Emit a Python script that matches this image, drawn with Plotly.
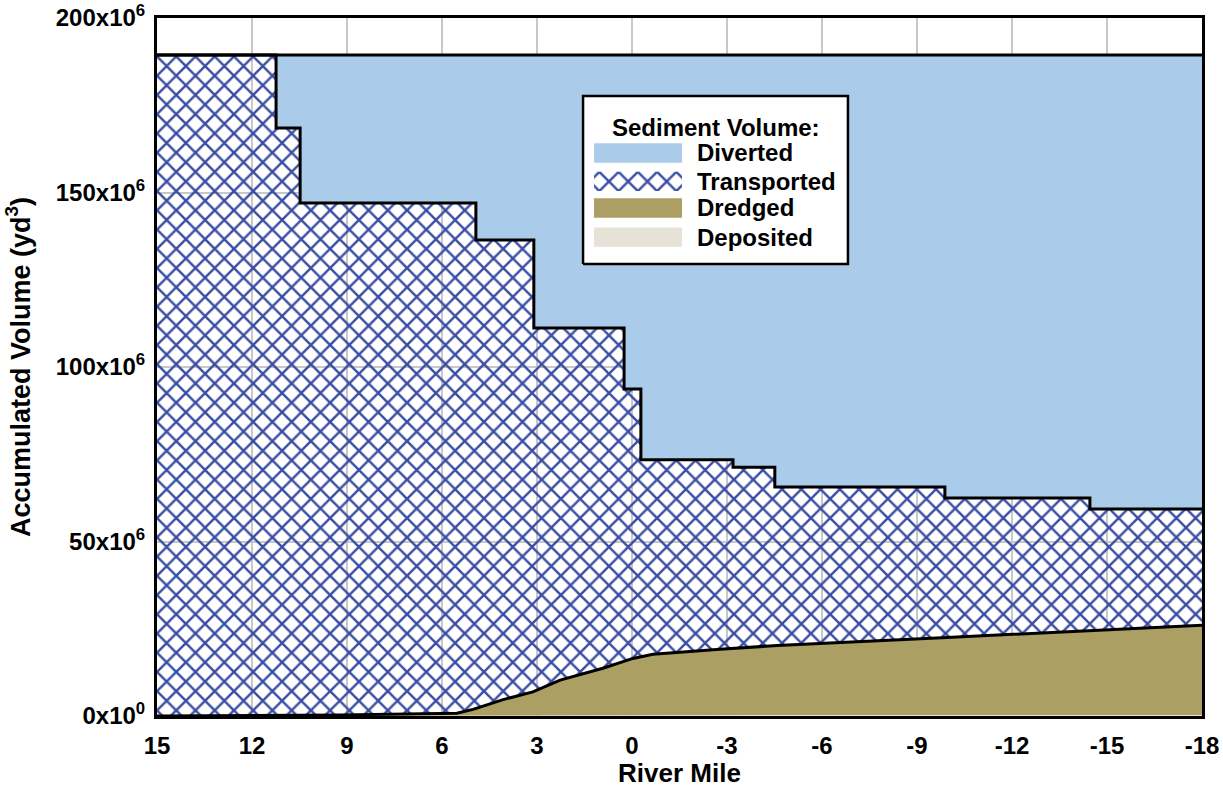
import plotly.graph_objects as go

# ---------------- data (volumes in cubic yards, river mile on x) ----------------
step_mile = [15, 11.24, 10.48, 4.93, 3.10, 0.25, -0.28, -3.19, -4.51, -9.88, -14.46, -18]
transported_top = [189.4e6, 168.5e6, 147.0e6, 136.4e6, 111.2e6, 93.7e6, 73.4e6,
                   71.3e6, 65.6e6, 62.5e6, 59.3e6, 59.3e6]

dredge_mile = [15, 9.22, 5.53, 5.02, 4.07, 3.13, 2.27, 0.92, -0.03, -0.66,
               -2.78, -4.58, -9.95, -14.46, -18]
dredged_cum = [0.0, 0.2e6, 0.5e6, 1.6e6, 4.4e6, 6.6e6, 10.0e6, 13.4e6, 16.2e6, 17.4e6,
               18.8e6, 19.9e6, 22.2e6, 24.2e6, 25.7e6]
deposited = [0.0, 0.1e6, 0.3e6, 0.3e6, 0.3e6, 0.3e6, 0.3e6, 0.3e6, 0.3e6, 0.3e6,
             0.3e6, 0.3e6, 0.3e6, 0.3e6, 0.3e6]

total_mile = [15, -18]
total_volume = [189.4e6, 189.4e6]

x_ticks = [15, 12, 9, 6, 3, 0, -3, -6, -9, -12, -15, -18]
y_ticks = [0, 50e6, 100e6, 150e6, 200e6]
y_tick_text = ["0x10<sup>0</sup>", "50x10<sup>6</sup>", "100x10<sup>6</sup>",
               "150x10<sup>6</sup>", "200x10<sup>6</sup>"]

legend_labels = ["Diverted", "Transported", "Dredged", "Deposited"]

# ---------------- styles ----------------
C_DIV = "#abcbeb"
C_HATCH = "#3a4ea3"
C_DRE = "#ab9f64"
C_DEP = "#e6e2d7"
FONT = "Liberation Sans, Arial, sans-serif"
HATCH = dict(shape="x", size=13.6, solidity=0.33, fgcolor=C_HATCH, fillmode="replace")

dep_plus_dre = [a + b for a, b in zip(deposited, dredged_cum)]

fig = go.Figure()
fig.add_trace(go.Scatter(x=dredge_mile, y=deposited, mode="lines",
                         line=dict(width=0, color=C_DEP), fill="tozeroy",
                         fillcolor=C_DEP, name="Deposited", hoverinfo="skip"))
fig.add_trace(go.Scatter(x=dredge_mile, y=dep_plus_dre, mode="lines",
                         line=dict(width=3, color="black"), fill="tonexty",
                         fillcolor=C_DRE, name="Dredged"))
fig.add_trace(go.Scatter(x=step_mile, y=transported_top, mode="lines",
                         line=dict(width=3, color="black", shape="hv"), fill="tonexty",
                         fillpattern=dict(HATCH, bgcolor="rgba(0,0,0,0)"),
                         fillcolor="rgba(0,0,0,0)", name="Transported"))
fig.add_trace(go.Scatter(x=total_mile, y=total_volume, mode="lines",
                         line=dict(width=3, color="black"), fill="tonexty",
                         fillcolor=C_DIV, name="Diverted"))

# ---------------- legend box drawn by hand (overlay axis = plot-area fractions) ----------------
L_X0, L_X1, L_Y0, L_Y1 = 0.4077, 0.6612, 0.6476, 0.8883
SW_X0, SW_X1 = 0.4182, 0.5024
TXT_X = 0.5148
row_y = [0.8066, 0.7658, 0.7278, 0.6862]
sw_half = 0.0138

fig.add_trace(go.Scatter(x=[L_X0, L_X1, L_X1, L_X0, L_X0], y=[L_Y0, L_Y0, L_Y1, L_Y1, L_Y0],
                         xaxis="x2", yaxis="y2", mode="lines",
                         line=dict(width=2.5, color="black"), fill="toself", fillcolor="white",
                         hoverinfo="skip", showlegend=False))
hy = row_y[1]
fig.add_trace(go.Scatter(x=[SW_X0, SW_X1, SW_X1, SW_X0, SW_X0],
                         y=[hy - sw_half, hy - sw_half, hy + sw_half, hy + sw_half, hy - sw_half],
                         xaxis="x2", yaxis="y2", mode="lines", line=dict(width=0),
                         fill="toself", fillcolor="rgba(0,0,0,0)",
                         fillpattern=dict(HATCH, bgcolor="white"),
                         hoverinfo="skip", showlegend=False))

shapes = []
for lab, yc, col in zip(legend_labels, row_y, [C_DIV, None, C_DRE, C_DEP]):
    if col is not None:
        shapes.append(dict(type="rect", xref="paper", yref="paper", x0=SW_X0, x1=SW_X1,
                           y0=yc - sw_half, y1=yc + sw_half, fillcolor=col,
                           line=dict(width=0), layer="above"))

annotations = [dict(text="<b>Sediment Volume:</b>", xref="paper", yref="paper",
                    x=(L_X0 + L_X1) / 2, y=0.8438, showarrow=False, xanchor="center",
                    yanchor="middle", font=dict(family=FONT, size=24, color="black"))]
for lab, yc in zip(legend_labels, row_y):
    annotations.append(dict(text=f"<b>{lab}</b>", xref="paper", yref="paper", x=TXT_X, y=yc,
                            showarrow=False, xanchor="left", yanchor="middle",
                            font=dict(family=FONT, size=24, color="black")))

fig.update_layout(
    template="none",
    width=1223, height=788,
    margin=dict(l=157, r=21, t=18, b=72),
    paper_bgcolor="white", plot_bgcolor="white",
    showlegend=False,
    font=dict(family=FONT, color="black"),
    shapes=shapes, annotations=annotations,
    xaxis=dict(range=[15, -18], tickvals=x_ticks, ticktext=[f"<b>{v}</b>" for v in x_ticks],
               tickfont=dict(size=24), showgrid=True, gridcolor="#c8c8c8", gridwidth=2,
               zeroline=False, showline=True, linecolor="black", linewidth=3, mirror=True,
               ticks="", automargin=False, ticklabelstandoff=6,
               title=dict(text="<b>River Mile</b>", font=dict(size=26), standoff=2)),
    yaxis=dict(range=[0, 200e6], tickvals=y_ticks, ticktext=[f"<b>{t}</b>" for t in y_tick_text],
               tickfont=dict(size=24), showgrid=True, gridcolor="#c8c8c8", gridwidth=2,
               zeroline=False, showline=True, linecolor="black", linewidth=3, mirror=True,
               ticks="", automargin=False, ticklabelstandoff=4,
               title=dict(text="<b>Accumulated Volume (yd<sup>3</sup>)</b>",
                          font=dict(size=27), standoff=18)),
    xaxis2=dict(overlaying="x", range=[0, 1], visible=False, fixedrange=True),
    yaxis2=dict(overlaying="y", range=[0, 1], visible=False, fixedrange=True),
)

fig.write_html("out.html")
